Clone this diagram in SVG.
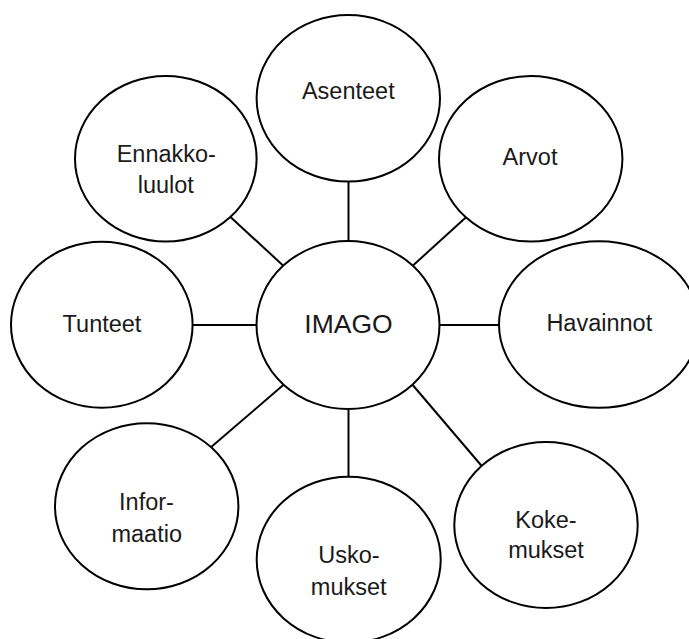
<svg xmlns="http://www.w3.org/2000/svg" width="689" height="639" viewBox="0 0 689 639">
<style>
.n{fill:#fff;stroke:#000;stroke-width:2}
.c line{stroke:#000;stroke-width:2}
text{font-family:"Liberation Sans",Arial,sans-serif;font-size:23.5px;fill:#1a1a1a;text-anchor:middle}
.big{font-size:26.5px}
</style>
<rect width="689" height="639" fill="#fff"/>
<g id="connectors" class="c">
<line x1="348.5" y1="181.6" x2="348.5" y2="241"/>
<line x1="412.7" y1="265.7" x2="465.5" y2="217.8"/>
<line x1="439.5" y1="325" x2="499" y2="325"/>
<line x1="412.7" y1="385" x2="481.7" y2="466"/>
<line x1="348.5" y1="409" x2="348.5" y2="476.7"/>
<line x1="283.3" y1="385" x2="211.5" y2="446.8"/>
<line x1="192.6" y1="325" x2="256.5" y2="325"/>
<line x1="283.3" y1="265.7" x2="231" y2="217.5"/>
</g>
<g id="asenteet"><ellipse class="n" cx="348.3" cy="98.3" rx="91.7" ry="83.3"/><text x="348.3" y="98.5">Asenteet</text></g>
<g id="arvot"><ellipse class="n" cx="530.7" cy="158.8" rx="91.7" ry="82.8"/><text x="530" y="165">Arvot</text></g>
<g id="havainnot"><ellipse class="n" cx="599" cy="324.5" rx="100" ry="83.3"/><text x="599.3" y="330.7">Havainnot</text></g>
<g id="kokemukset"><ellipse class="n" cx="546" cy="525" rx="91.7" ry="83"/><text x="546" y="528.3">Koke-</text><text x="546" y="558.3">mukset</text></g>
<g id="uskomukset"><ellipse class="n" cx="348.7" cy="559.7" rx="92" ry="83"/><text x="349" y="563.3">Usko-</text><text x="348.7" y="595">mukset</text></g>
<g id="informaatio"><ellipse class="n" cx="146.7" cy="506.3" rx="91.7" ry="83"/><text x="146.5" y="510">Infor-</text><text x="146.7" y="541.7">maatio</text></g>
<g id="tunteet"><ellipse class="n" cx="101.8" cy="324.7" rx="90.8" ry="83"/><text x="102" y="331.7">Tunteet</text></g>
<g id="ennakkoluulot"><ellipse class="n" cx="165.8" cy="158.8" rx="90.8" ry="82.8"/><text x="166.3" y="162.3">Ennakko-</text><text x="165.8" y="193.3">luulot</text></g>
<g id="imago"><ellipse class="n" cx="348" cy="325" rx="91.5" ry="84"/><text class="big" x="348.5" y="332.7">IMAGO</text></g>
</svg>
